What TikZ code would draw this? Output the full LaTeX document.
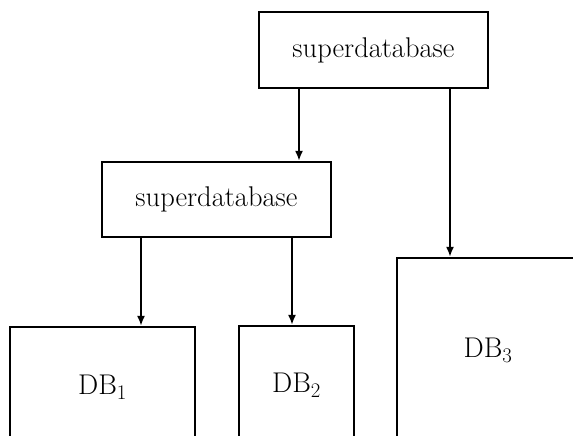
\documentclass[tikz,border=0pt]{standalone}
\usetikzlibrary{arrows.meta}
\begin{document}
\begin{tikzpicture}[x=1pt,y=-1pt,
  box/.style={draw,line width=2.2pt,inner sep=0pt,font=\fontsize{28.5}{32}\selectfont},
  arr/.style={line width=2.2pt,-{Latex[length=10pt,width=8pt]}}]
\useasboundingbox (0,0) rectangle (573,436);
\clip (0,0) rectangle (573,436);
\node[box,minimum width=229pt,minimum height=76pt] (top) at (373.5,50) {superdatabase};
\node[box,minimum width=229pt,minimum height=75pt] (mid) at (216.5,199.5) {superdatabase};
\node[box,minimum width=185pt,minimum height=120pt] (db1) at (102.5,387) {DB$_1$};
\node[box,minimum width=115pt,minimum height=118pt] (db2) at (296.5,385) {DB$_2$};
\node[box,minimum width=182pt,minimum height=184pt] (db3) at (488,350) {DB$_3$};
\draw[arr] (top.south -| 299,0) -- (mid.north -| 299,0);
\draw[arr] (top.south -| 450,0) -- (db3.north -| 450,0);
\draw[arr] (mid.south -| 141,0) -- (db1.north -| 141,0);
\draw[arr] (mid.south -| 292,0) -- (db2.north -| 292,0);
\end{tikzpicture}
\end{document}
